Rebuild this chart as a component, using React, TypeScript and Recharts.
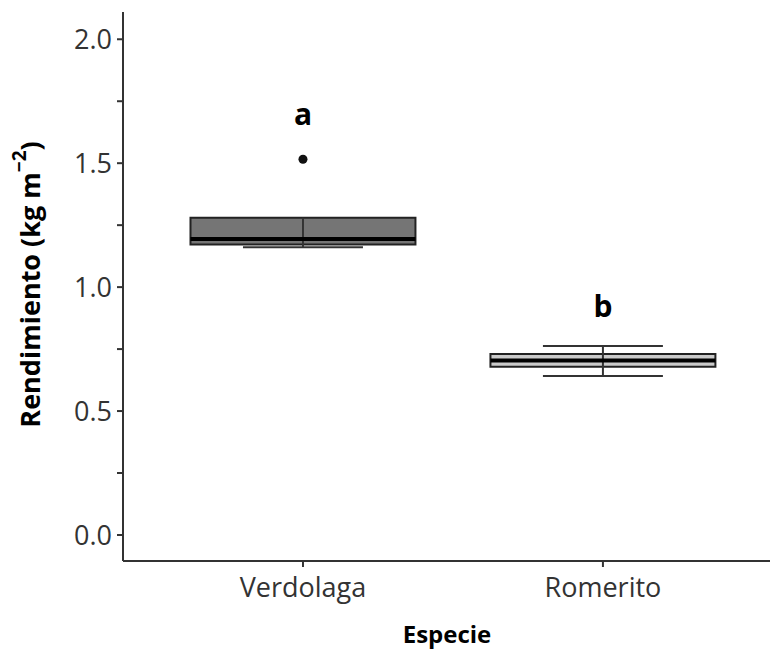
import React from "react";
import {
  ComposedChart,
  XAxis,
  YAxis,
  Scatter,
  ReferenceArea,
  ReferenceLine,
} from "recharts";

const species = ["Verdolaga", "Romerito"];
const lowerWhisker = [1.161, 0.641];
const q1 = [1.172, 0.679];
const median = [1.194, 0.704];
const q3 = [1.28, 0.73];
const upperWhisker = [1.28, 0.762];
const boxFills = ["#666666", "#c4c4c4"];
const outliers = [{ x: 1, y: 1.516 }];
const letters = [
  { x: 1, y: 1.7, text: "a" },
  { x: 2, y: 0.925, text: "b" },
];
const yTicks = [0, 0.25, 0.5, 0.75, 1, 1.25, 1.5, 1.75, 2];

const BOX_HALF = 0.375;
const CAP_HALF = 0.2;

const YTitle = (props: any) => {
  const vb = props.viewBox || { x: 0, y: 12, width: 123, height: 549 };
  const cx = vb.x + 29;
  const cy = vb.y + vb.height / 2 - 2;
  return (
    <text
      x={cx}
      y={cy}
      transform={`rotate(-90, ${cx}, ${cy})`}
      textAnchor="middle"
      dominantBaseline="central"
      fontFamily="Open Sans"
      fontWeight="bold"
      fontSize={27}
      fill="#000"
    >
      Rendimiento (kg m
      <tspan dy={-10} fontSize={19}>
        −2
      </tspan>
      <tspan dy={10}>)</tspan>
    </text>
  );
};

const XTitle = (props: any) => {
  const vb = props.viewBox || { x: 123, y: 561, width: 647, height: 88 };
  return (
    <text
      x={447}
      y={vb.y + 72}
      textAnchor="middle"
      dominantBaseline="central"
      fontFamily="Open Sans"
      fontWeight="bold"
      fontSize={24}
      fill="#000"
    >
      Especie
    </text>
  );
};

const Letter = (props: any) => (
  <text
    x={props.cx}
    y={props.cy}
    textAnchor="middle"
    dominantBaseline="central"
    fontFamily="Open Sans"
    fontWeight="bold"
    fontSize={30}
    fill="#000"
  >
    {props.payload.text}
  </text>
);

export default function App() {
  return (
    <div style={{ position: "absolute", left: 0, top: 0, background: "#fff" }}>
      <ComposedChart
        width={770}
        height={649}
        margin={{ top: 12, right: 0, bottom: 0, left: 0 }}
      >
        <XAxis
          type="number"
          dataKey="x"
          domain={[0.4, 2.557]}
          ticks={[1, 2]}
          allowDataOverflow
          tickFormatter={(v: number) => species[v - 1] ?? ""}
          height={88}
          stroke="#333"
          strokeWidth={2}
          tickSize={6}
          tickMargin={11}
          tick={{ fill: "#333", fontSize: 27, fontFamily: "Open Sans" }}
          label={{ content: XTitle }}
        />
        <YAxis
          type="number"
          dataKey="y"
          domain={[-0.105, 2.11]}
          ticks={yTicks}
          allowDataOverflow
          interval={0}
          width={123}
          stroke="#333"
          strokeWidth={2}
          tickSize={6}
          tickMargin={5}
          tickFormatter={(v: number) => (Math.abs((v * 2) % 1) < 1e-9 ? v.toFixed(1) : "")}
          tick={{ fill: "#333", fontSize: 27, fontFamily: "Open Sans" }}
          label={{ content: YTitle }}
        />
        {species.map((s, i) => (
          <ReferenceLine
            key={`w-${s}`}
            segment={[
              { x: i + 1, y: lowerWhisker[i] },
              { x: i + 1, y: upperWhisker[i] },
            ]}
            stroke="#333"
            strokeWidth={2}
          />
        ))}
        {species.map((s, i) => (
          <ReferenceArea
            key={`b-${s}`}
            x1={i + 1 - BOX_HALF}
            x2={i + 1 + BOX_HALF}
            y1={q1[i]}
            y2={q3[i]}
            fill={boxFills[i]}
            fillOpacity={0.9}
            stroke="#222"
            strokeWidth={2}
          />
        ))}
        {species.map((s, i) => (
          <ReferenceLine
            key={`m-${s}`}
            segment={[
              { x: i + 1 - BOX_HALF, y: median[i] },
              { x: i + 1 + BOX_HALF, y: median[i] },
            ]}
            stroke="#000"
            strokeWidth={4}
          />
        ))}
        {species.map((s, i) => (
          <ReferenceLine
            key={`lc-${s}`}
            segment={[
              { x: i + 1 - CAP_HALF, y: lowerWhisker[i] },
              { x: i + 1 + CAP_HALF, y: lowerWhisker[i] },
            ]}
            stroke="#333"
            strokeWidth={2}
          />
        ))}
        {species.map((s, i) =>
          upperWhisker[i] > q3[i] ? (
            <ReferenceLine
              key={`uc-${s}`}
              segment={[
                { x: i + 1 - CAP_HALF, y: upperWhisker[i] },
                { x: i + 1 + CAP_HALF, y: upperWhisker[i] },
              ]}
              stroke="#333"
              strokeWidth={2}
            />
          ) : null
        )}
        <Scatter data={outliers} fill="#111" isAnimationActive={false} shape="circle" />
        <Scatter data={letters} isAnimationActive={false} shape={<Letter />} />
      </ComposedChart>
    </div>
  );
}
